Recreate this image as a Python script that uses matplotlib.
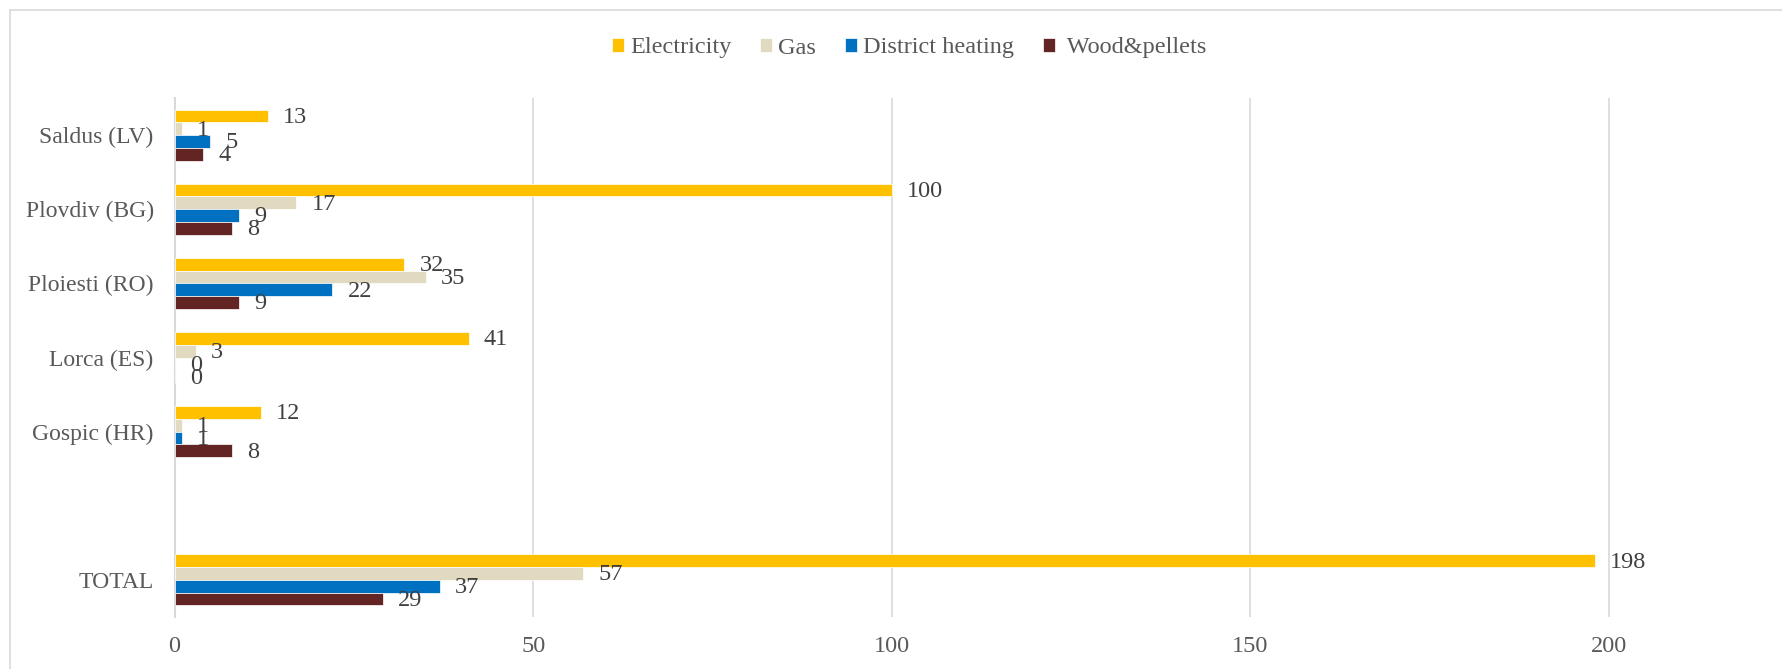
import numpy as np
import matplotlib.pyplot as plt
from matplotlib.lines import Line2D

# categories from bottom to top; the blank row keeps a gap above TOTAL
categories = ["TOTAL", "", "Gospic (HR)", "Lorca (ES)", "Ploiesti (RO)", "Plovdiv (BG)", "Saldus (LV)"]
electricity = [198, np.nan, 12, 41, 32, 100, 13]
gas = [57, np.nan, 1, 3, 35, 17, 1]
district_heating = [37, np.nan, 1, 0, 22, 9, 5]
wood_pellets = [29, np.nan, 8, 0, 9, 8, 4]

series = [
    ("Electricity", electricity, "#FFC000"),
    ("Gas", gas, "#E1DAC1"),
    ("District heating", district_heating, "#0070C0"),
    (" Wood&pellets", wood_pellets, "#632523"),
]

plt.rcParams['font.family'] = ['Liberation Serif', 'DejaVu Serif']

fig = plt.figure(figsize=(17.82, 6.69), dpi=100)
ax = fig.add_axes([174.5 / 1782, 1 - 617 / 669, 1 - 174.5 / 1782, (617 - 98) / 669])

y = np.arange(len(categories))
h = 0.172
offsets = [1.5 * h, 0.5 * h, -0.5 * h, -1.5 * h]

for (name, vals, color), off in zip(series, offsets):
    vals = np.array(vals, dtype=float)
    ax.barh(y + off, vals, height=h, color=color, edgecolor='white',
            linewidth=0.5, label=name, zorder=3)
    for yy, v in zip(y + off, vals):
        if np.isnan(v):
            continue
        ax.annotate(f"{int(v)}", xy=(v, yy), xytext=(11, -1), textcoords='offset points',
                    ha='left', va='center', fontsize=17.5, color='#404040', zorder=4)

ax.set_xlim(0, 224.1)
ax.set_ylim(-0.5, len(categories) - 0.5)
ax.set_xticks([0, 50, 100, 150, 200])
ax.set_yticks(y)
ax.set_yticklabels(categories)
ax.tick_params(axis='both', length=0, labelsize=17.5, labelcolor='#595959')
ax.tick_params(axis='y', pad=15, labelsize=17)
ax.tick_params(axis='x', pad=14)

ax.grid(axis='x', color='#D9D9D9', linewidth=1.2, zorder=0)
ax.set_axisbelow(True)
for s in ['top', 'right', 'bottom']:
    ax.spines[s].set_visible(False)
ax.spines['left'].set_color('#D9D9D9')
ax.spines['left'].set_linewidth(1.5)

# chart area border (left and top edges)
fig.add_artist(Line2D([10 / 1782, 10 / 1782], [0, 1 - 10 / 669], color='#D9D9D9',
                      linewidth=1.2, transform=fig.transFigure))
fig.add_artist(Line2D([10 / 1782, 1], [1 - 10 / 669, 1 - 10 / 669], color='#D9D9D9',
                      linewidth=1.2, transform=fig.transFigure))

fig.legend(loc='center', bbox_to_anchor=(909 / 1782, 1 - 48 / 669), ncol=4, frameon=False,
           fontsize=17.5, handlelength=0.5, handleheight=0.5, handletextpad=0.25,
           columnspacing=1.18, labelcolor='#595959')

fig.savefig("out.png", dpi=100)
